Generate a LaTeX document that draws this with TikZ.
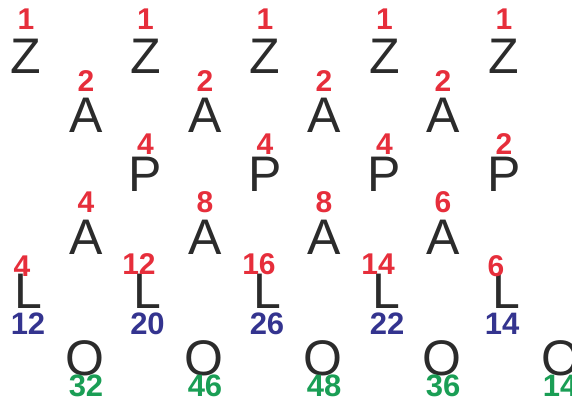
\documentclass[tikz,border=0pt]{standalone}
\usepackage{fontspec}
\setmainfont{Liberation Sans}
\definecolor{numred}{HTML}{E62E3B}
\definecolor{numblue}{HTML}{34348F}
\definecolor{numgreen}{HTML}{1A9E55}
\definecolor{letgray}{HTML}{2B2B2B}
\begin{document}
\begin{tikzpicture}[x=1pt, y=-1pt,
    letter/.style={inner sep=0pt, text=letgray, font=\fontsize{50}{50}\selectfont},
    rednum/.style={inner sep=0pt, text=numred, font=\fontsize{30}{30}\selectfont\bfseries},
    bluenum/.style={inner sep=0pt, text=numblue, font=\fontsize{31}{31}\selectfont\bfseries},
    greennum/.style={inner sep=0pt, text=numgreen, font=\fontsize{31}{31}\selectfont\bfseries}]
    % Marco de la imagen
    \useasboundingbox (0,0) rectangle (572,403);

    % Fila Z
    \node[letter] (z1) at (26,56.5) {Z};
    \node[letter] (z2) at (145.5,56.5) {Z};
    \node[letter] (z3) at (265,56.5) {Z};
    \node[letter] (z4) at (384.5,56.5) {Z};
    \node[letter] (z5) at (504,56.5) {Z};
    \node[rednum] (rz1) at (26,19) {1};
    \node[rednum] (rz2) at (145.5,19) {1};
    \node[rednum] (rz3) at (265,19) {1};
    \node[rednum] (rz4) at (384.5,19) {1};
    \node[rednum] (rz5) at (504,19) {1};

    % Primera fila A
    \node[letter] (a1) at (86,115) {A};
    \node[letter] (a2) at (205,115) {A};
    \node[letter] (a3) at (324,115) {A};
    \node[letter] (a4) at (443,115) {A};
    \node[rednum] (ra1) at (86,81) {2};
    \node[rednum] (ra2) at (205,81) {2};
    \node[rednum] (ra3) at (324,81) {2};
    \node[rednum] (ra4) at (443,81) {2};

    % Fila P
    \node[letter] (p2) at (145.5,174.5) {P};
    \node[letter] (p3) at (265,174.5) {P};
    \node[letter] (p4) at (384.5,174.5) {P};
    \node[letter] (p5) at (504,174.5) {P};
    \node[rednum] (rp2) at (145.5,144) {4};
    \node[rednum] (rp3) at (265,144) {4};
    \node[rednum] (rp4) at (384.5,144) {4};
    \node[rednum] (rp5) at (504,144) {2};

    % Segunda fila A
    \node[letter] (b1) at (86,237) {A};
    \node[letter] (b2) at (205,237) {A};
    \node[letter] (b3) at (324,237) {A};
    \node[letter] (b4) at (443,237) {A};
    \node[rednum] (rb1) at (86,202) {4};
    \node[rednum] (rb2) at (205,202) {8};
    \node[rednum] (rb3) at (324,202) {8};
    \node[rednum] (rb4) at (443,202) {6};

    % Fila L (rojo arriba, azul abajo)
    \node[letter] (l1) at (28,291.5) {L};
    \node[letter] (l2) at (147.5,291.5) {L};
    \node[letter] (l3) at (267,291.5) {L};
    \node[letter] (l4) at (386.5,291.5) {L};
    \node[letter] (l5) at (506,291.5) {L};
    \node[rednum] (rl1) at (22,266) {4};
    \node[rednum] (rl2) at (139,264) {12};
    \node[rednum] (rl3) at (259,264) {16};
    \node[rednum] (rl4) at (378,264) {14};
    \node[rednum] (rl5) at (496,266) {6};
    \node[bluenum] (bl1) at (28,323.5) {12};
    \node[bluenum] (bl2) at (147.5,323.5) {20};
    \node[bluenum] (bl3) at (267,323.5) {26};
    \node[bluenum] (bl4) at (387,323.5) {22};
    \node[bluenum] (bl5) at (502,323.5) {14};

    % Fila O
    \node[letter] (o1) at (85,358.5) {O};
    \node[letter] (o2) at (204,358.5) {O};
    \node[letter] (o3) at (323,358.5) {O};
    \node[letter] (o4) at (442,358.5) {O};
    \node[letter] (o5) at (561,358.5) {O};
    \node[greennum] (go1) at (86,386) {32};
    \node[greennum] (go2) at (205,386) {46};
    \node[greennum] (go3) at (324,386) {48};
    \node[greennum] (go4) at (443,386) {36};
    \node[greennum] (go5) at (560,386) {14};
\end{tikzpicture}
\end{document}
